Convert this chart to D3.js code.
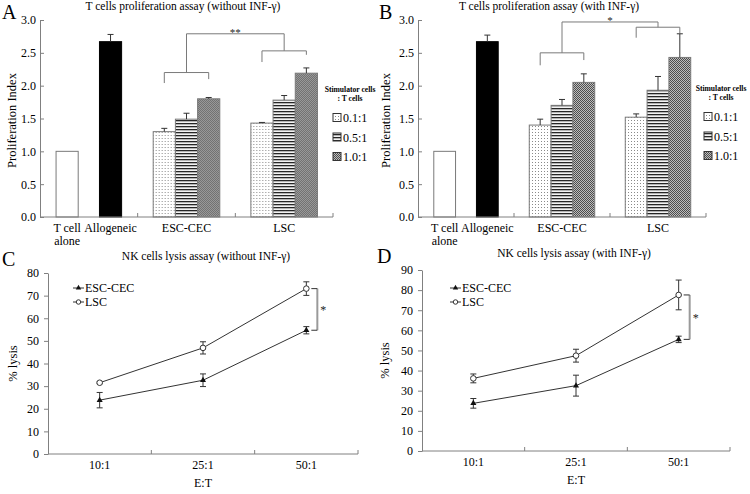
<!DOCTYPE html>
<html>
<head>
<meta charset="utf-8">
<script src="https://cdn.jsdelivr.net/npm/d3@7"></script>
<style>
  body { margin: 0; background: #fff; }
  text { font-family: "Liberation Serif", "Times New Roman", serif; fill: #000; }
</style>
</head>
<body>
<svg id="fig" width="750" height="494"></svg>
<script>
// ---- data ----
const controlLabels = ['T cell alone', 'Allogeneic'];
const groupLabels = ['ESC-CEC', 'LSC'];
const ratioLabels = ['0.1:1', '0.5:1', '1.0:1'];
const barTicks = [0, 0.5, 1.0, 1.5, 2.0, 2.5, 3.0];

const controlA = [1.00, 2.67];
const controlErrA = [0, 0.11];
const escA = [1.30, 1.49, 1.80];
const escErrA = [0.05, 0.09, 0.02];
const lscA = [1.43, 1.78, 2.19];
const lscErrA = [0.01, 0.07, 0.08];

const controlB = [1.00, 2.67];
const controlErrB = [0, 0.10];
const escB = [1.40, 1.70, 2.05];
const escErrB = [0.09, 0.09, 0.13];
const lscB = [1.52, 1.93, 2.43];
const lscErrB = [0.05, 0.21, 0.36];

const etLabels = ['10:1', '25:1', '50:1'];
const escC = [23.8, 32.6, 54.7];
const escErrC = [3.4, 2.8, 1.6];
const lscC = [31.5, 46.9, 73.1];
const lscErrC = [0.4, 2.7, 3.0];

const escD = [23.7, 32.5, 55.5];
const escErrD = [2.4, 5.2, 1.6];
const lscD = [36.1, 47.4, 77.6];
const lscErrD = [2.2, 3.2, 7.4];

const ticksC = d3.range(0, 81, 10);
const ticksD = d3.range(0, 91, 10);

// ---- styles ----
const axisCol = '#808080';
const barStroke = '#7a7a7a';
const errCol = '#333';

const svg = d3.select('#fig');
const defs = svg.append('defs');

// bar fill patterns
const pDots = defs.append('pattern').attr('id', 'pDots')
  .attr('patternUnits', 'userSpaceOnUse').attr('width', 3).attr('height', 3);
pDots.append('rect').attr('width', 3).attr('height', 3).attr('fill', '#fff');
pDots.append('rect').attr('width', 1).attr('height', 1).attr('fill', '#8a8a8a');

const pLines = defs.append('pattern').attr('id', 'pLines')
  .attr('patternUnits', 'userSpaceOnUse').attr('width', 4).attr('height', 3);
pLines.append('rect').attr('width', 4).attr('height', 3).attr('fill', '#f2f2f2');
pLines.append('rect').attr('width', 4).attr('height', 1.3).attr('fill', '#262626');

const pCheck = defs.append('pattern').attr('id', 'pCheck')
  .attr('patternUnits', 'userSpaceOnUse').attr('width', 2).attr('height', 2);
pCheck.append('rect').attr('width', 2).attr('height', 2).attr('fill', '#bdbdbd');
pCheck.append('rect').attr('width', 1).attr('height', 1).attr('fill', '#4d4d4d');
pCheck.append('rect').attr('x', 1).attr('y', 1).attr('width', 1).attr('height', 1).attr('fill', '#4d4d4d');

const ratioFill = ['url(#pDots)', 'url(#pLines)', 'url(#pCheck)'];

function barPanel(o) {
  const g = svg.append('g');
  const y = d3.scaleLinear().domain([0, 3]).range([o.bottom, o.top]);
  const xg = d3.scaleBand().domain(['ctrl', ...groupLabels]).range([o.left, o.right]);
  const xc = d3.scaleBand().domain(controlLabels).range([0, xg.bandwidth()])
    .paddingInner(0.49).paddingOuter(0.37);
  const xr = d3.scaleBand().domain(ratioLabels).range([0, xg.bandwidth()])
    .paddingInner(0).paddingOuter(0.7);

  const groups = [
    { name: groupLabels[0], vals: o.esc, errs: o.escErr },
    { name: groupLabels[1], vals: o.lsc, errs: o.lscErr },
  ];

  // control bars
  const cg = g.append('g').attr('transform', `translate(${xg('ctrl')},0)`);
  cg.selectAll('rect').data(controlLabels).join('rect')
    .attr('x', d => xc(d))
    .attr('width', xc.bandwidth())
    .attr('y', (d, i) => y(o.ctrl[i]))
    .attr('height', (d, i) => y(0) - y(o.ctrl[i]))
    .attr('fill', (d, i) => i === 0 ? '#fff' : '#000')
    .attr('stroke', (d, i) => i === 0 ? barStroke : '#000');
  controlLabels.forEach((d, i) => {
    if (o.ctrlErr[i] <= 0) return;
    const cx = xc(d) + xc.bandwidth() / 2;
    drawErr(cg, cx, y(o.ctrl[i]), y(o.ctrl[i] + o.ctrlErr[i]), false);
  });

  // grouped bars
  groups.forEach(gr => {
    const gg = g.append('g').attr('transform', `translate(${xg(gr.name)},0)`);
    gg.selectAll('rect').data(ratioLabels).join('rect')
      .attr('x', d => xr(d))
      .attr('width', xr.bandwidth())
      .attr('y', (d, i) => y(gr.vals[i]))
      .attr('height', (d, i) => y(0) - y(gr.vals[i]))
      .attr('fill', (d, i) => ratioFill[i])
      .attr('stroke', barStroke);
    ratioLabels.forEach((d, i) => {
      const cx = xr(d) + xr.bandwidth() / 2;
      drawErr(gg, cx, y(gr.vals[i]), y(gr.vals[i] + gr.errs[i]), false);
    });
  });

  // y axis
  g.append('g').attr('transform', `translate(${o.left},0)`)
    .call(d3.axisLeft(y).tickValues(barTicks).tickFormat(d3.format('.1f'))
      .tickSizeInner(-4).tickSizeOuter(0).tickPadding(4))
    .call(a => a.selectAll('path,line').attr('stroke', axisCol))
    .call(a => a.selectAll('text').style('font-size', '12px').style('font-family', '"Liberation Serif", serif'));

  // x axis line with ticks between categories
  g.append('line').attr('x1', o.left).attr('x2', o.right)
    .attr('y1', o.bottom).attr('y2', o.bottom).attr('stroke', axisCol);
  g.selectAll('line.xt').data(['ctrl', ...groupLabels]).join('line')
    .attr('x1', d => xg(d) + xg.bandwidth()).attr('x2', d => xg(d) + xg.bandwidth())
    .attr('y1', o.bottom).attr('y2', o.bottom - 4).attr('stroke', axisCol);

  // category labels
  controlLabels.forEach((d, i) => {
    const cx = xg('ctrl') + xc(d) + xc.bandwidth() / 2;
    const t = g.append('text').attr('x', cx).attr('y', o.bottom + 15)
      .attr('text-anchor', 'middle').style('font-size', '12px');
    if (i === 0) {
      t.append('tspan').attr('x', cx).text('T cell');
      t.append('tspan').attr('x', cx).attr('dy', 13).text('alone');
    } else {
      t.text(d);
    }
  });
  groupLabels.forEach(d => {
    g.append('text').attr('x', xg(d) + xg.bandwidth() / 2).attr('y', o.bottom + 15)
      .attr('text-anchor', 'middle').style('font-size', '12px').text(d);
  });

  // significance brackets
  const bc = '#7a7a7a';
  const stems = [];
  groups.forEach((gr, k) => {
    const lv = o.brackets[k];
    const xa = xg(gr.name) + xr(ratioLabels[0]) + xr.bandwidth() / 2;
    const xb = xg(gr.name) + xr(ratioLabels[2]) + xr.bandwidth() / 2;
    const xm = xg(gr.name) + xg.bandwidth() / 2;
    g.append('path')
      .attr('d', `M${xa},${y(lv[1])}V${y(lv[0])}H${xb}V${y(lv[2])}`)
      .attr('fill', 'none').attr('stroke', bc);
    g.append('line').attr('x1', xm).attr('x2', xm)
      .attr('y1', y(lv[0])).attr('y2', y(o.bracketTop)).attr('stroke', bc);
    stems.push(xm);
  });
  g.append('line').attr('x1', stems[0]).attr('x2', stems[1])
    .attr('y1', y(o.bracketTop)).attr('y2', y(o.bracketTop)).attr('stroke', bc);
  g.append('text').attr('x', (stems[0] + stems[1]) / 2).attr('y', y(o.bracketTop) + 2)
    .attr('text-anchor', 'middle').style('font-size', '11px').style('fill', '#222').text(o.star);

  // legend
  const lg = g.append('g').attr('transform', `translate(${o.legendX},${o.legendY})`);
  lg.append('text').attr('x', 0).attr('y', 0).attr('text-anchor', 'middle')
    .style('font-size', '7.6px').style('font-weight', 'bold').text('Stimulator cells');
  lg.append('text').attr('x', 0).attr('y', 9).attr('text-anchor', 'middle')
    .style('font-size', '7.6px').style('font-weight', 'bold').text(': T cells');
  ratioLabels.forEach((d, i) => {
    const yy = 26 + i * 19.5;
    lg.append('rect').attr('x', -17).attr('y', yy - 4.5).attr('width', 8).attr('height', 8)
      .attr('fill', ratioFill[i]).attr('stroke', '#333');
    lg.append('text').attr('x', -7).attr('y', yy + 4).style('font-size', '12px').text(d);
  });

  // titles
  svg.append('text').attr('x', o.titleX).attr('y', 10).attr('text-anchor', 'middle')
    .style('font-size', '11.5px').text(o.title);
  svg.append('text').attr('x', o.letterX).attr('y', 19).style('font-size', '20px').text(o.letter);
  svg.append('text').attr('transform', `translate(${o.ylabX},${(o.top + o.bottom) / 2 + 2}) rotate(-90)`)
    .attr('text-anchor', 'middle').style('font-size', '12.5px').text('Proliferation Index');
}

function drawErr(sel, cx, y0, y1, both, yLow) {
  const cap = 3;
  sel.append('line').attr('x1', cx).attr('x2', cx)
    .attr('y1', both ? yLow : y0).attr('y2', y1).attr('stroke', errCol);
  sel.append('line').attr('x1', cx - cap).attr('x2', cx + cap)
    .attr('y1', y1).attr('y2', y1).attr('stroke', errCol);
  if (both) {
    sel.append('line').attr('x1', cx - cap).attr('x2', cx + cap)
      .attr('y1', yLow).attr('y2', yLow).attr('stroke', errCol);
  }
}

function linePanel(o) {
  const g = svg.append('g');
  const y = d3.scaleLinear().domain([0, o.ymax]).range([o.bottom, o.top]);
  const x = d3.scaleBand().domain(etLabels).range([o.left, o.right]);
  const cx = d => x(d) + x.bandwidth() / 2;

  // axes
  g.append('g').attr('transform', `translate(${o.left},0)`)
    .call(d3.axisLeft(y).tickValues(o.ticks).tickSizeInner(4).tickSizeOuter(0).tickPadding(5))
    .call(a => a.selectAll('path,line').attr('stroke', axisCol))
    .call(a => a.selectAll('text').style('font-size', '12px').style('font-family', '"Liberation Serif", serif'));
  g.append('line').attr('x1', o.left).attr('x2', o.right)
    .attr('y1', o.bottom).attr('y2', o.bottom).attr('stroke', axisCol);
  g.selectAll('line.xt').data(etLabels).join('line')
    .attr('x1', d => x(d) + x.bandwidth()).attr('x2', d => x(d) + x.bandwidth())
    .attr('y1', o.bottom).attr('y2', o.bottom - 4).attr('stroke', axisCol);
  g.selectAll('text.xl').data(etLabels).join('text')
    .attr('x', cx).attr('y', o.bottom + 15).attr('text-anchor', 'middle')
    .style('font-size', '12px').text(d => d);
  g.append('text').attr('x', (o.left + o.right) / 2).attr('y', o.bottom + 33)
    .attr('text-anchor', 'middle').style('font-size', '12px').text('E:T');

  const series = [
    { name: 'ESC-CEC', vals: o.esc, errs: o.escErr, sym: 'tri' },
    { name: 'LSC', vals: o.lsc, errs: o.lscErr, sym: 'circ' },
  ];
  const line = d3.line().x((d, i) => cx(etLabels[i])).y(d => y(d));

  series.forEach(s => {
    g.append('path').datum(s.vals).attr('d', line)
      .attr('fill', 'none').attr('stroke', '#333').attr('stroke-width', 1);
    s.vals.forEach((v, i) => {
      const xx = cx(etLabels[i]);
      drawErr(g, xx, y(v), y(v + s.errs[i]), true, y(v - s.errs[i]));
    });
    s.vals.forEach((v, i) => drawMarker(g, s.sym, cx(etLabels[i]), y(v)));
  });

  // bracket at last point
  const last = etLabels[etLabels.length - 1];
  const bx = cx(last) + 11;
  const yt = y(o.lsc[2]);
  const yb = y(o.esc[2]);
  g.append('line').attr('x1', bx).attr('x2', bx).attr('y1', yt).attr('y2', yb)
    .attr('stroke', '#9a9a9a').attr('stroke-width', 2);
  [yt, yb].forEach(yy => g.append('line').attr('x1', bx - 6).attr('x2', bx)
    .attr('y1', yy).attr('y2', yy).attr('stroke', '#333'));
  g.append('text').attr('x', bx + 6).attr('y', (yt + yb) / 2 + 5)
    .attr('text-anchor', 'middle').style('font-size', '12px').style('fill', '#222').text('*');

  // legend
  series.forEach((s, i) => {
    const ly = o.legendY + i * 14;
    g.append('line').attr('x1', o.legendX).attr('x2', o.legendX + 11)
      .attr('y1', ly).attr('y2', ly).attr('stroke', '#333');
    drawMarker(g, s.sym, o.legendX + 5.5, ly, 0.8);
    g.append('text').attr('x', o.legendX + 12).attr('y', ly + 4)
      .style('font-size', '12px').text(s.name);
  });

  svg.append('text').attr('x', o.titleX).attr('y', o.top - 13).attr('text-anchor', 'middle')
    .style('font-size', '11.5px').text(o.title);
  svg.append('text').attr('x', o.letterX).attr('y', o.top - 7).style('font-size', '20px').text(o.letter);
  svg.append('text').attr('transform', `translate(${o.ylabX},${(o.top + o.bottom) / 2}) rotate(-90)`)
    .attr('text-anchor', 'middle').style('font-size', '12.5px').text('% lysis');
}

function drawMarker(sel, sym, x, y, k = 1) {
  if (sym === 'tri') {
    sel.append('path').attr('d', d3.symbol(d3.symbolTriangle, 16 * k)())
      .attr('transform', `translate(${x},${y})`).attr('fill', '#111');
  } else {
    sel.append('circle').attr('cx', x).attr('cy', y).attr('r', 2.8 * k)
      .attr('fill', '#fff').attr('stroke', '#333');
  }
}

barPanel({
  left: 40, right: 333, top: 20, bottom: 217,
  ctrl: controlA, ctrlErr: controlErrA,
  esc: escA, escErr: escErrA, lsc: lscA, lscErr: lscErrA,
  brackets: [[2.20, 2.04, 2.10], [2.53, 2.36, 2.47]], bracketTop: 2.79, star: '**',
  legendX: 350, legendY: 92,
  title: 'T cells proliferation assay (without INF-\u03b3)', titleX: 183,
  letter: 'A', letterX: 2, ylabX: 16,
});

barPanel({
  left: 418, right: 706, top: 20, bottom: 217,
  ctrl: controlB, ctrlErr: controlErrB,
  esc: escB, escErr: escErrB, lsc: lscB, lscErr: lscErrB,
  brackets: [[2.50, 2.31, 2.39], [2.89, 2.73, 2.80]], bracketTop: 2.97, star: '*',
  legendX: 721, legendY: 91,
  title: 'T cells proliferation assay (with INF-\u03b3)', titleX: 549,
  letter: 'B', letterX: 379, ylabX: 390,
});

linePanel({
  left: 48, right: 358, top: 273, bottom: 454, ymax: 80, ticks: ticksC,
  esc: escC, escErr: escErrC, lsc: lscC, lscErr: lscErrC,
  legendX: 73, legendY: 288,
  title: 'NK cells lysis assay (without INF-\u03b3)', titleX: 206,
  letter: 'C', letterX: 2, ylabX: 17,
});

linePanel({
  left: 422, right: 730, top: 270, bottom: 451, ymax: 90, ticks: ticksD,
  esc: escD, escErr: escErrD, lsc: lscD, lscErr: lscErrD,
  legendX: 450, legendY: 288,
  title: 'NK cells lysis assay (with INF-\u03b3)', titleX: 574,
  letter: 'D', letterX: 377, ylabX: 389,
});
</script>
</body>
</html>
